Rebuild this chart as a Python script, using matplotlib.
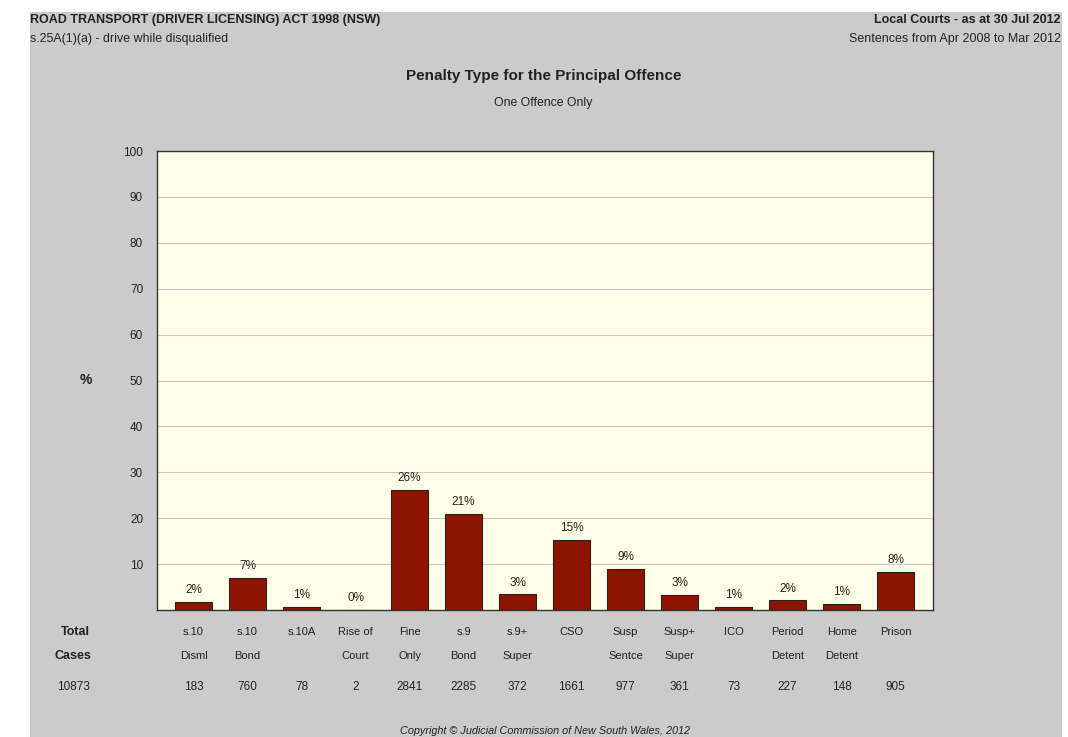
import matplotlib
matplotlib.use("Agg")
import matplotlib.pyplot as plt
from matplotlib.patches import Rectangle
from matplotlib.transforms import blended_transform_factory

plt.rcParams['font.family'] = ['Liberation Sans', 'DejaVu Sans']

cat_line1 = ["s.10", "s.10", "s.10A", "Rise of", "Fine", "s.9", "s.9+", "CSO",
             "Susp", "Susp+", "ICO", "Period", "Home", "Prison"]
cat_line2 = ["Disml", "Bond", "", "Court", "Only", "Bond", "Super", "",
             "Sentce", "Super", "", "Detent", "Detent", ""]
percent = [1.7, 7.0, 0.7, 0.02, 26.1, 21.0, 3.4, 15.3, 9.0, 3.3, 0.7, 2.1, 1.4, 8.3]
pct_labels = ["2%", "7%", "1%", "0%", "26%", "21%", "3%", "15%", "9%", "3%",
              "1%", "2%", "1%", "8%"]
cases = [183, 760, 78, 2, 2841, 2285, 372, 1661, 977, 361, 73, 227, 148, 905]
total_cases = 10873
yticks = [10, 20, 30, 40, 50, 60, 70, 80, 90, 100]

W, H = 1068, 737
fig = plt.figure(figsize=(W / 100, H / 100), dpi=100)
fig.patch.set_facecolor("white")
bg = "#cbcbcb"
fig.patches.append(Rectangle((30 / W, 0), (1062 - 30) / W, 1 - 12 / H,
                             transform=fig.transFigure, facecolor=bg,
                             edgecolor="none", zorder=-10))

txt = "#222222"
fig.text(30 / W, 1 - 20 / H, "ROAD TRANSPORT (DRIVER LICENSING) ACT 1998 (NSW)",
         fontsize=9, fontweight="bold", color=txt, ha="left", va="center")
fig.text(30 / W, 1 - 39 / H, "s.25A(1)(a) - drive while disqualified",
         fontsize=8.9, color=txt, ha="left", va="center")
fig.text(1061 / W, 1 - 20 / H, "Local Courts - as at 30 Jul 2012",
         fontsize=9, fontweight="bold", color=txt, ha="right", va="center")
fig.text(1061 / W, 1 - 39 / H, "Sentences from Apr 2008 to Mar 2012",
         fontsize=9, color=txt, ha="right", va="center")
fig.text(544 / W, 1 - 76 / H, "Penalty Type for the Principal Offence",
         fontsize=11, fontweight="bold", color=txt, ha="center", va="center")
fig.text(543 / W, 1 - 103 / H, "One Offence Only",
         fontsize=8.8, color=txt, ha="center", va="center")
fig.text(545 / W, 1 - 731 / H, "Copyright \u00a9 Judicial Commission of New South Wales, 2012",
         fontsize=7.8, style="italic", color=txt, ha="center", va="center")

left, right, top, bottom = 157, 933, 151, 610
ax = fig.add_axes([left / W, 1 - bottom / H, (right - left) / W, (bottom - top) / H])
ax.set_facecolor("#ffffe8")
x = list(range(len(percent)))
ax.set_xlim(-0.676, 13.69)
ax.set_ylim(0, 100)
ax.set_yticks(yticks)
ax.set_yticklabels([str(v) for v in yticks])
ax.tick_params(axis="y", length=0, pad=10, labelsize=8.5, labelcolor=txt)
ax.set_xticks([])
for v in yticks[:-1]:
    ax.axhline(v, color="#c8c8c8", lw=0.8, zorder=0)
for s in ax.spines.values():
    s.set_color("#333333")
    s.set_linewidth(1.0)

ax.bar(x, percent, width=0.68, color="#8c1400", edgecolor="#222222",
       linewidth=0.8, zorder=3)
for xi, p, lab in zip(x, percent, pct_labels):
    ax.annotate(lab, (xi, p), xytext=(0, 8.5), textcoords="offset points",
                ha="center", va="center", fontsize=8.5, color=txt, zorder=4)

ax.text(-0.676 - 71 / 54, 50, "%", fontsize=10, fontweight="bold", color=txt,
        ha="center", va="center", clip_on=False)

tr = blended_transform_factory(ax.transData, fig.transFigure)
for xi, l1, l2, c in zip(x, cat_line1, cat_line2, cases):
    fig.text(xi, 1 - 632 / H, l1, transform=tr, fontsize=8, color=txt,
             ha="center", va="center")
    if l2:
        fig.text(xi, 1 - 656 / H, l2, transform=tr, fontsize=8, color=txt,
                 ha="center", va="center")
    fig.text(xi, 1 - 687 / H, str(c), transform=tr, fontsize=8.5, color=txt,
             ha="center", va="center")

fig.text(75 / W, 1 - 632 / H, "Total", fontsize=9, fontweight="bold", color=txt,
         ha="center", va="center")
fig.text(73 / W, 1 - 656 / H, "Cases", fontsize=9, fontweight="bold", color=txt,
         ha="center", va="center")
fig.text(73 / W, 1 - 687 / H, str(total_cases), fontsize=8.5, color=txt,
         ha="center", va="center")

fig.savefig("out.png", dpi=100)
